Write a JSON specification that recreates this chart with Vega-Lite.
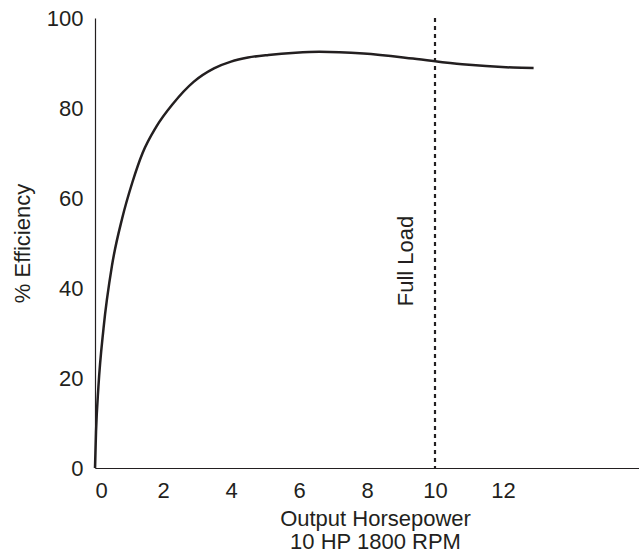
{
  "$schema": "https://vega.github.io/schema/vega-lite/v6.json",
  "width": 544,
  "height": 450,
  "autosize": {"type": "none"},
  "padding": {"left": 95, "top": 18, "right": 0, "bottom": 89},
  "background": "white",
  "config": {
    "font": "Liberation Sans",
    "view": {"stroke": null},
    "axis": {"grid": false, "ticks": false, "domainColor": "#231f20", "domainWidth": 1.2, "labelColor": "#231f20", "titleColor": "#231f20", "labelFontSize": 22, "titleFontSize": 22, "titleFontWeight": "normal", "labelFont": "Liberation Sans", "titleFont": "Liberation Sans"}
  },
  "datasets": {
    "curve": [
      {"hp": 0, "eff": 0},
      {"hp": 0.03, "eff": 8},
      {"hp": 0.1, "eff": 18},
      {"hp": 0.25, "eff": 31},
      {"hp": 0.5, "eff": 45},
      {"hp": 0.8, "eff": 55.5},
      {"hp": 1.1, "eff": 63.5},
      {"hp": 1.4, "eff": 70},
      {"hp": 1.8, "eff": 75.8},
      {"hp": 2.3, "eff": 81},
      {"hp": 2.9, "eff": 85.8},
      {"hp": 3.5, "eff": 88.8},
      {"hp": 4.0, "eff": 90.3},
      {"hp": 4.5, "eff": 91.2},
      {"hp": 5.1, "eff": 91.8},
      {"hp": 5.9, "eff": 92.3},
      {"hp": 6.6, "eff": 92.5},
      {"hp": 7.9, "eff": 92.1},
      {"hp": 9.35, "eff": 91.0},
      {"hp": 10.8, "eff": 89.7},
      {"hp": 12.3, "eff": 89.0},
      {"hp": 12.9, "eff": 88.9}
    ],
    "fullload": [{"hp": 10, "top": 100, "bottom": 0, "labelx": 9.15, "labely": 46, "label": "Full Load"}]
  },
  "layer": [
    {
      "data": {"name": "curve"},
      "mark": {"type": "line", "interpolate": "monotone", "color": "#231f20", "strokeWidth": 2.5},
      "encoding": {
        "x": {"field": "hp", "type": "quantitative", "scale": {"domain": [0, 16], "nice": false}, "axis": {"values": [0, 2, 4, 6, 8, 10, 12], "title": ["Output Horsepower", "10 HP 1800 RPM"], "labelPadding": 12, "titlePadding": 7, "titleLineHeight": 23, "titleX": 280}},
        "y": {"field": "eff", "type": "quantitative", "scale": {"domain": [0, 100], "nice": false}, "axis": {"values": [0, 20, 40, 60, 80, 100], "title": "% Efficiency", "labelPadding": 12, "titlePadding": 12}}
      }
    },
    {
      "data": {"name": "fullload"},
      "mark": {"type": "rule", "color": "#231f20", "strokeWidth": 2.2, "strokeDash": [4, 4]},
      "encoding": {
        "x": {"field": "hp", "type": "quantitative"},
        "y": {"field": "top", "type": "quantitative"},
        "y2": {"field": "bottom"}
      }
    },
    {
      "data": {"name": "fullload"},
      "mark": {"type": "text", "angle": 270, "align": "center", "baseline": "middle", "fontSize": 22, "color": "#231f20", "font": "Liberation Sans"},
      "encoding": {
        "x": {"field": "labelx", "type": "quantitative"},
        "y": {"field": "labely", "type": "quantitative"},
        "text": {"field": "label"}
      }
    }
  ]
}
